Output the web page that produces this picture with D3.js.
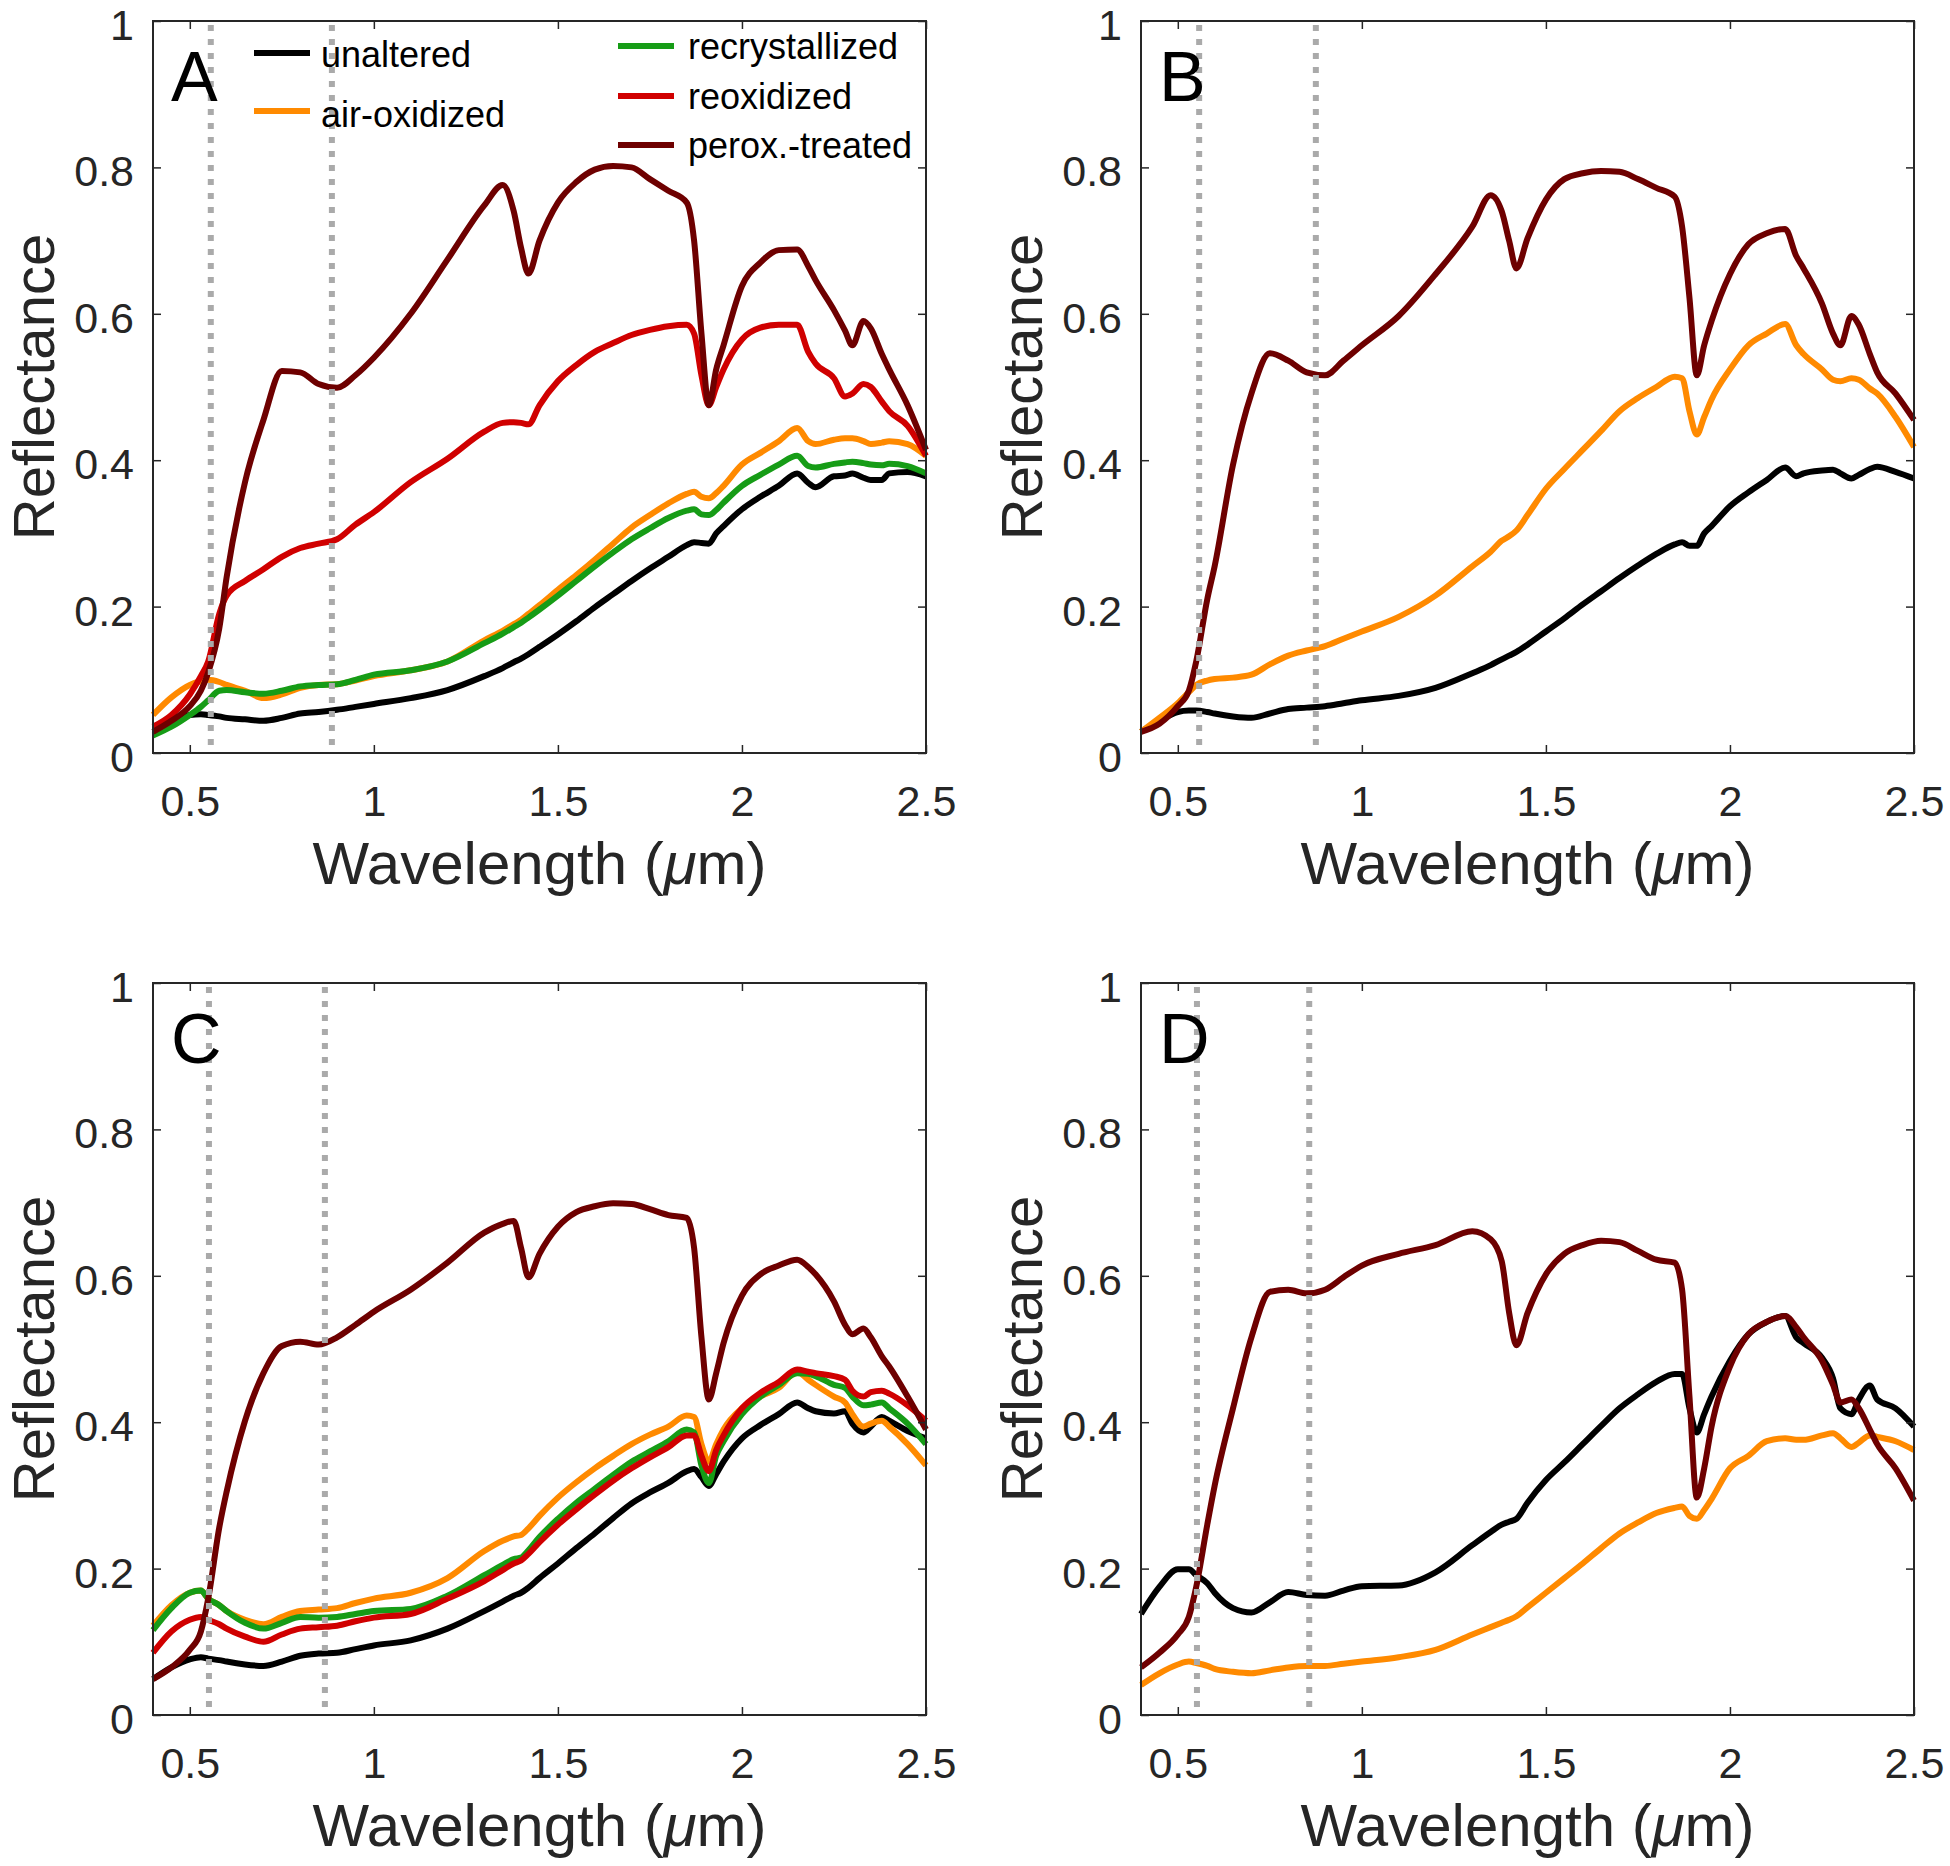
<!DOCTYPE html>
<html>
<head>
<meta charset="utf-8">
<script src="https://cdn.jsdelivr.net/npm/d3@7"></script>
<style>
  body { margin: 0; background: #ffffff; }
  svg { display: block; }
  text { font-family: "Liberation Sans", Arial, Helvetica, sans-serif; }
</style>
</head>
<body>
<svg id="chart" width="1950" height="1866"></svg>
<script>
// ---------------- DATA ----------------
const wavelength = [
  0.40, 0.45, 0.50, 0.53, 0.55, 0.58, 0.60, 0.65, 0.70, 0.75,
  0.80, 0.85, 0.90, 0.95, 1.00, 1.10, 1.20, 1.30, 1.35, 1.38,
  1.40, 1.42, 1.45, 1.50, 1.55, 1.60, 1.65, 1.70, 1.75, 1.80,
  1.85, 1.87, 1.89, 1.91, 1.93, 1.95, 2.00, 2.05, 2.10, 2.15,
  2.18, 2.20, 2.25, 2.28, 2.30, 2.33, 2.35, 2.38, 2.40, 2.45,
  2.50
];

// Panel A
const aUnaltered = [
  0.028, 0.040, 0.052, 0.053, 0.052, 0.050, 0.048, 0.046, 0.044, 0.048,
  0.054, 0.056, 0.059, 0.063, 0.067, 0.075, 0.086, 0.105, 0.116, 0.124,
  0.129, 0.135, 0.145, 0.162, 0.180, 0.199, 0.217, 0.235, 0.252, 0.268,
  0.284, 0.288, 0.287, 0.286, 0.300, 0.310, 0.333, 0.350, 0.365, 0.382,
  0.369, 0.363, 0.378, 0.379, 0.382, 0.376, 0.373, 0.373, 0.382, 0.384,
  0.378
];
const aAirOx = [
  0.052, 0.076, 0.093, 0.098, 0.100, 0.097, 0.093, 0.085, 0.075, 0.080,
  0.089, 0.093, 0.094, 0.099, 0.105, 0.113, 0.125, 0.154, 0.167, 0.176,
  0.182, 0.190, 0.202, 0.223, 0.243, 0.264, 0.286, 0.308, 0.325, 0.341,
  0.354, 0.357, 0.350, 0.348, 0.355, 0.365, 0.394, 0.410, 0.426, 0.444,
  0.426, 0.422, 0.428, 0.430, 0.430, 0.426, 0.422, 0.424, 0.426, 0.422,
  0.406
];
const aRecryst = [
  0.024, 0.036, 0.052, 0.063, 0.072, 0.085, 0.086, 0.083, 0.081, 0.085,
  0.091, 0.093, 0.094, 0.100, 0.107, 0.113, 0.125, 0.150, 0.163, 0.172,
  0.178, 0.185, 0.196, 0.215, 0.235, 0.255, 0.274, 0.292, 0.307, 0.321,
  0.331, 0.333, 0.326, 0.325, 0.332, 0.342, 0.365, 0.380, 0.394, 0.406,
  0.392, 0.390, 0.395, 0.397, 0.398, 0.396, 0.394, 0.393, 0.395, 0.392,
  0.382
];
const aReox = [
  0.036, 0.052, 0.080, 0.105, 0.125, 0.190, 0.215, 0.235, 0.251, 0.268,
  0.280, 0.286, 0.292, 0.312, 0.329, 0.370, 0.402, 0.439, 0.451, 0.452,
  0.451, 0.449, 0.475, 0.508, 0.530, 0.548, 0.560, 0.571, 0.578, 0.583,
  0.585, 0.573, 0.516, 0.475, 0.500, 0.524, 0.565, 0.581, 0.585, 0.585,
  0.548, 0.532, 0.512, 0.487, 0.491, 0.504, 0.500, 0.480, 0.467, 0.447,
  0.406
];
const aPerox = [
  0.029, 0.044, 0.064, 0.085, 0.110, 0.170, 0.240, 0.370, 0.455, 0.522,
  0.520, 0.504, 0.499, 0.516, 0.540, 0.600, 0.674, 0.748, 0.776, 0.740,
  0.690, 0.655, 0.700, 0.752, 0.780, 0.797, 0.802, 0.800, 0.784, 0.768,
  0.752, 0.700, 0.573, 0.475, 0.524, 0.557, 0.638, 0.670, 0.687, 0.688,
  0.665, 0.646, 0.605, 0.577, 0.557, 0.590, 0.580, 0.545, 0.524, 0.475,
  0.414
];

// Panel B
const bUnaltered = [
  0.029, 0.044, 0.056, 0.058, 0.058, 0.056, 0.054, 0.050, 0.048, 0.054,
  0.060, 0.062, 0.064, 0.068, 0.072, 0.078, 0.089, 0.109, 0.120, 0.128,
  0.133, 0.138, 0.148, 0.166, 0.184, 0.203, 0.221, 0.239, 0.256, 0.272,
  0.285, 0.288, 0.283, 0.283, 0.300, 0.310, 0.337, 0.356, 0.373, 0.390,
  0.378, 0.382, 0.386, 0.387, 0.382, 0.375, 0.380, 0.388, 0.391, 0.384,
  0.375
];
const bAirOx = [
  0.029, 0.048, 0.068, 0.083, 0.093, 0.099, 0.101, 0.103, 0.107, 0.121,
  0.133, 0.140, 0.146, 0.156, 0.166, 0.186, 0.215, 0.255, 0.275, 0.290,
  0.296, 0.304, 0.325, 0.361, 0.388, 0.414, 0.440, 0.467, 0.485, 0.500,
  0.514, 0.512, 0.467, 0.435, 0.459, 0.483, 0.524, 0.557, 0.573, 0.586,
  0.557, 0.545, 0.524, 0.510, 0.508, 0.512, 0.510, 0.498, 0.491, 0.459,
  0.418
];
const bPerox = [
  0.029, 0.040, 0.064, 0.085, 0.125, 0.210, 0.255, 0.394, 0.491, 0.546,
  0.536, 0.520, 0.516, 0.536, 0.557, 0.597, 0.654, 0.719, 0.762, 0.740,
  0.700, 0.662, 0.703, 0.756, 0.784, 0.792, 0.795, 0.794, 0.784, 0.772,
  0.760, 0.719, 0.622, 0.516, 0.557, 0.590, 0.654, 0.695, 0.710, 0.716,
  0.679, 0.662, 0.614, 0.573, 0.557, 0.597, 0.585, 0.545, 0.520, 0.491,
  0.455
];

// Panel C
const cUnaltered = [
  0.049, 0.065, 0.076, 0.079, 0.077, 0.075, 0.073, 0.069, 0.067, 0.073,
  0.081, 0.084, 0.085, 0.090, 0.095, 0.102, 0.118, 0.142, 0.155, 0.163,
  0.167, 0.174, 0.187, 0.207, 0.228, 0.248, 0.269, 0.289, 0.304, 0.317,
  0.333, 0.336, 0.325, 0.313, 0.329, 0.346, 0.378, 0.396, 0.411, 0.427,
  0.419, 0.415, 0.412, 0.415, 0.398, 0.386, 0.394, 0.407, 0.402, 0.388,
  0.378
];
const cAirOx = [
  0.122, 0.150, 0.167, 0.170, 0.159, 0.150, 0.142, 0.130, 0.124, 0.134,
  0.142, 0.144, 0.146, 0.153, 0.159, 0.167, 0.187, 0.224, 0.238, 0.244,
  0.246, 0.255, 0.272, 0.297, 0.318, 0.337, 0.354, 0.370, 0.383, 0.394,
  0.409, 0.407, 0.370, 0.346, 0.370, 0.390, 0.419, 0.435, 0.447, 0.469,
  0.458, 0.451, 0.435, 0.427, 0.411, 0.394, 0.398, 0.402, 0.394, 0.370,
  0.341
];
const cRecryst = [
  0.116, 0.146, 0.167, 0.170, 0.159, 0.150, 0.142, 0.126, 0.118, 0.126,
  0.134, 0.133, 0.134, 0.138, 0.142, 0.145, 0.163, 0.191, 0.205, 0.213,
  0.215, 0.225, 0.243, 0.268, 0.290, 0.309, 0.328, 0.346, 0.360, 0.374,
  0.390, 0.386, 0.341, 0.317, 0.354, 0.374, 0.411, 0.435, 0.451, 0.467,
  0.466, 0.463, 0.451, 0.447, 0.435, 0.423, 0.424, 0.427, 0.419, 0.398,
  0.370
];
const cReox = [
  0.085, 0.114, 0.130, 0.134, 0.130, 0.124, 0.118, 0.107, 0.100, 0.110,
  0.118, 0.120, 0.122, 0.128, 0.133, 0.138, 0.159, 0.183, 0.198, 0.207,
  0.211, 0.220, 0.236, 0.260, 0.281, 0.301, 0.320, 0.337, 0.352, 0.366,
  0.382, 0.382, 0.354, 0.333, 0.362, 0.382, 0.419, 0.440, 0.455, 0.472,
  0.469, 0.467, 0.463, 0.458, 0.443, 0.435, 0.441, 0.443, 0.439, 0.423,
  0.402
];
const cPerox = [
  0.049, 0.065, 0.089, 0.114, 0.159, 0.256, 0.305, 0.402, 0.467, 0.504,
  0.510, 0.506, 0.516, 0.533, 0.551, 0.581, 0.618, 0.659, 0.671, 0.675,
  0.638, 0.598, 0.630, 0.667, 0.687, 0.695, 0.699, 0.698, 0.691, 0.683,
  0.679, 0.638, 0.516, 0.431, 0.467, 0.508, 0.573, 0.602, 0.614, 0.622,
  0.612, 0.602, 0.565, 0.533, 0.520, 0.528, 0.516, 0.490, 0.476, 0.435,
  0.390
];

// Panel D
const dUnaltered = [
  0.138, 0.175, 0.199, 0.199, 0.191, 0.180, 0.167, 0.146, 0.140, 0.154,
  0.168, 0.164, 0.163, 0.170, 0.176, 0.177, 0.195, 0.232, 0.250, 0.260,
  0.264, 0.268, 0.290, 0.321, 0.345, 0.370, 0.395, 0.419, 0.438, 0.455,
  0.466, 0.466, 0.419, 0.386, 0.411, 0.435, 0.484, 0.520, 0.537, 0.545,
  0.516, 0.508, 0.488, 0.460, 0.419, 0.411, 0.431, 0.450, 0.431, 0.419,
  0.394
];
const dAirOx = [
  0.041, 0.057, 0.069, 0.073, 0.071, 0.067, 0.063, 0.059, 0.057, 0.061,
  0.065, 0.067, 0.067, 0.070, 0.073, 0.079, 0.089, 0.110, 0.120, 0.126,
  0.130, 0.135, 0.147, 0.167, 0.187, 0.207, 0.228, 0.248, 0.263, 0.276,
  0.283, 0.285, 0.272, 0.268, 0.280, 0.295, 0.337, 0.354, 0.374, 0.378,
  0.376, 0.376, 0.382, 0.385, 0.378, 0.366, 0.372, 0.382, 0.380, 0.374,
  0.362
];
const dPerox = [
  0.065, 0.085, 0.110, 0.134, 0.175, 0.260, 0.313, 0.419, 0.516, 0.578,
  0.581, 0.576, 0.581, 0.598, 0.614, 0.630, 0.642, 0.661, 0.650, 0.620,
  0.550, 0.505, 0.549, 0.602, 0.630, 0.642, 0.648, 0.646, 0.634, 0.622,
  0.618, 0.581, 0.435, 0.297, 0.337, 0.394, 0.476, 0.520, 0.537, 0.545,
  0.530, 0.516, 0.484, 0.451, 0.427, 0.431, 0.419, 0.390, 0.370, 0.337,
  0.293
];

const seriesNames = ["unaltered", "air-oxidized", "recrystallized", "reoxidized", "perox.-treated"];
const seriesColors = ["#000000", "#ff8a00", "#169c16", "#d00000", "#6e0000"];
const panelLabels = ["A", "B", "C", "D"];
const guideLinesA = [0.557, 0.886];
const guideLinesB = [0.558, 0.875];
const guideLinesC = [0.552, 0.867];
const guideLinesD = [0.552, 0.857];
const xTicks = [0.5, 1, 1.5, 2, 2.5];
const xTickLabels = ["0.5", "1", "1.5", "2", "2.5"];
const yTicks = [0, 0.2, 0.4, 0.6, 0.8, 1];
const yTickLabels = ["0", "0.2", "0.4", "0.6", "0.8", "1"];

// ---------------- LAYOUT ----------------
const W = 773, H = 732;
const axisColor = "#262626";
const panels = [
  { label: panelLabels[0], left: 153,  top: 21,  guides: guideLinesA, legend: true,
    series: [[0, aUnaltered], [1, aAirOx], [2, aRecryst], [3, aReox], [4, aPerox]] },
  { label: panelLabels[1], left: 1141, top: 21,  guides: guideLinesB, legend: false,
    series: [[0, bUnaltered], [1, bAirOx], [4, bPerox]] },
  { label: panelLabels[2], left: 153,  top: 983, guides: guideLinesC, legend: false,
    series: [[0, cUnaltered], [1, cAirOx], [2, cRecryst], [3, cReox], [4, cPerox]] },
  { label: panelLabels[3], left: 1141, top: 983, guides: guideLinesD, legend: false,
    series: [[0, dUnaltered], [1, dAirOx], [4, dPerox]] }
];
// legend positions relative to panel A plot area
const legendLayout = [
  { idx: 0, x: 101, y: 32, ty: 46, tx: 168 },
  { idx: 1, x: 101, y: 90, ty: 106, tx: 168 },
  { idx: 2, x: 465, y: 25, ty: 38, tx: 535 },
  { idx: 3, x: 465, y: 75, ty: 88, tx: 535 },
  { idx: 4, x: 465, y: 124, ty: 137, tx: 535 }
];

const svg = d3.select("#chart");
svg.append("rect").attr("width", 1950).attr("height", 1866).attr("fill", "#ffffff");

const x = d3.scaleLinear().domain([0.4, 2.5]).range([0, W]);
const y = d3.scaleLinear().domain([0, 1]).range([H, 0]);

panels.forEach(p => {
  const g = svg.append("g").attr("transform", `translate(${p.left},${p.top})`);

  // curves
  const line = d3.line()
    .x((d, i) => x(wavelength[i]))
    .y(d => y(d))
    .curve(d3.curveMonotoneX);
  p.series.forEach(([idx, vals]) => {
    g.append("path")
      .datum(vals)
      .attr("d", line)
      .attr("fill", "none")
      .attr("stroke", seriesColors[idx])
      .attr("stroke-width", 6)
      .attr("stroke-linejoin", "round");
  });

  // dotted guide lines
  p.guides.forEach(v => {
    g.append("line")
      .attr("x1", x(v)).attr("x2", x(v))
      .attr("y1", y(1) + 4).attr("y2", y(0))
      .attr("stroke", "#aaaaaa")
      .attr("stroke-width", 6)
      .attr("stroke-dasharray", "6 8");
  });

  // axes
  const styleAxis = sel => {
    sel.select(".domain").remove();
    sel.selectAll(".tick line").attr("stroke", axisColor).attr("stroke-width", 1.5);
    sel.selectAll(".tick text").attr("fill", axisColor).style("font-size", "43px")
      .style("font-family", '"Liberation Sans", Arial, sans-serif');
  };
  g.append("g").attr("transform", `translate(0,${H})`)
    .call(d3.axisBottom(x).tickValues(xTicks).tickFormat((d, i) => xTickLabels[i]).tickSize(-8).tickPadding(32))
    .call(styleAxis);
  g.append("g")
    .call(d3.axisTop(x).tickValues(xTicks).tickFormat("").tickSize(-8))
    .call(styleAxis);
  g.append("g")
    .call(d3.axisLeft(y).tickValues(yTicks).tickFormat((d, i) => yTickLabels[i]).tickSize(-8).tickPadding(19))
    .call(styleAxis)
    .call(sel => sel.selectAll(".tick text").attr("dy", "0.43em"));
  g.append("g").attr("transform", `translate(${W},0)`)
    .call(d3.axisRight(y).tickValues(yTicks).tickFormat("").tickSize(-8))
    .call(styleAxis);
  g.selectAll(".tick text").attr("font-size", null);

  g.append("rect")
    .attr("x", 0).attr("y", 0).attr("width", W).attr("height", H)
    .attr("fill", "none").attr("stroke", axisColor).attr("stroke-width", 2);

  // axis labels
  const xl = g.append("text")
    .attr("x", W / 2).attr("y", H + 131)
    .attr("text-anchor", "middle")
    .attr("fill", axisColor)
    .style("font-size", "60px");
  xl.append("tspan").text("Wavelength (");
  xl.append("tspan").style("font-style", "italic").text("\u03bc");
  xl.append("tspan").text("m)");

  g.append("text")
    .attr("transform", `translate(-99,${H / 2}) rotate(-90)`)
    .attr("text-anchor", "middle")
    .attr("fill", axisColor)
    .style("font-size", "58px")
    .text("Reflectance");

  // panel letter
  g.append("text")
    .attr("x", 18).attr("y", 80)
    .attr("fill", "#000000")
    .style("font-size", "70px")
    .text(p.label);

  // legend
  if (p.legend) {
    const lg = g.append("g");
    legendLayout.forEach(l => {
      lg.append("line")
        .attr("x1", l.x).attr("x2", l.x + 56)
        .attr("y1", l.y).attr("y2", l.y)
        .attr("stroke", seriesColors[l.idx])
        .attr("stroke-width", 6);
      lg.append("text")
        .attr("x", l.tx).attr("y", l.ty)
        .attr("fill", "#000000")
        .style("font-size", "36px")
        .text(seriesNames[l.idx]);
    });
  }
});
</script>
</body>
</html>
